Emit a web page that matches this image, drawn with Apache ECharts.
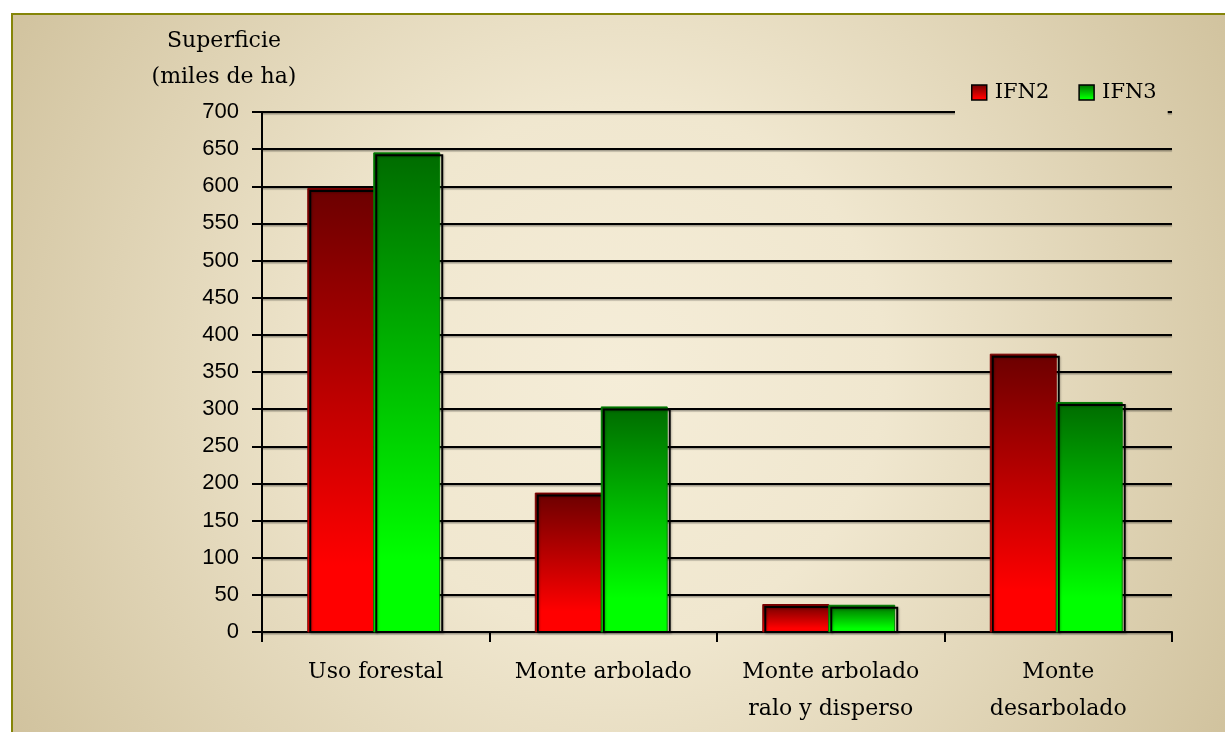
<!DOCTYPE html>
<html>
<head>
<meta charset="utf-8">
<script src="https://cdn.jsdelivr.net/npm/echarts@6/dist/echarts.min.js"></script>
<style>
  html, body { margin: 0; padding: 0; background: #ffffff; width: 1225px; height: 732px; overflow: hidden; }
  #frame { position: absolute; left: 11px; top: 13px; width: 1220px; height: 725px; border-left: 2px solid #858508; border-top: 2px solid #858508; }
  #chart { position: absolute; left: 13px; top: 15px; width: 1212px; height: 717px; }
</style>
</head>
<body>
<div id="frame"></div>
<div id="chart"></div>
<script>
// Superficie forestal por tipo de uso (miles de ha), IFN2 frente a IFN3
const categories = ['Uso forestal', 'Monte arbolado', 'Monte arbolado\nralo y disperso', 'Monte\ndesarbolado'];
const ifn2 = [597, 187, 37, 374];
const ifn3 = [645, 303, 36, 309];
const seriesNames = ['IFN2', 'IFN3'];
const yTicks = { min: 0, max: 700, interval: 50 };

const serif = '"DejaVu Serif", "Liberation Serif", serif';
const sans = '"Liberation Sans", Arial, sans-serif';

// Paper-like radial shading; the legend box reuses it, shifted into its own local frame
const paperStops = [
  { offset: 0, color: '#f5edd8' },
  { offset: 0.35, color: '#f0e7cf' },
  { offset: 1, color: '#cdbe98' }
];
const paperCenter = [607, 355];
const paperRadius = 760;
function paperAt(ox, oy) {
  return {
    type: 'radial', x: paperCenter[0] - ox, y: paperCenter[1] - oy, r: paperRadius, global: true,
    colorStops: paperStops
  };
}

const legendPos = { left: 942, top: 55, pad: [12, 11, 18, 16] };

function fade(dark, bright) {
  return {
    type: 'linear', x: 0, y: 0, x2: 0, y2: 1,
    colorStops: [
      { offset: 0, color: dark },
      { offset: 0.85, color: bright },
      { offset: 1, color: bright }
    ]
  };
}
const fills = [fade('#6b0000', '#ff0000'), fade('#006b00', '#00ff00')];
const edges = ['#7a0000', '#007a00'];

function barRenderer(side) {
  return function (params, api) {
    const idx = api.value(0);
    const top = api.coord([idx, api.value(1)]);
    const base = api.coord([idx, 0]);
    const band = api.size([1, 0])[0];
    const w = band * 0.29;
    const x = (side === 0 ? top[0] - w : top[0]) - 2;
    const h = base[1] - top[1];
    return {
      type: 'group',
      children: [
        {
          type: 'rect',
          shape: { x: x, y: top[1], width: w, height: h },
          style: { fill: fills[side], stroke: edges[side], lineWidth: 1 }
        },
        {
          type: 'rect',
          shape: { x: x + 2.5, y: top[1] + 2.5, width: w, height: h - 2.5 },
          style: {
            fill: null, stroke: '#000', lineWidth: 2,
            shadowColor: 'rgba(0,0,0,0.25)', shadowBlur: 2, shadowOffsetX: 1, shadowOffsetY: 1
          }
        }
      ]
    };
  };
}

const chart = echarts.init(document.getElementById('chart'), null, { renderer: 'canvas' });
chart.setOption({
  backgroundColor: paperAt(0, 0),
  animation: false,
  graphic: [
    {
      type: 'text', x: 211, y: 26,
      style: { text: 'Superficie', font: '22px ' + serif, fill: '#000', align: 'center', verticalAlign: 'middle' }
    },
    {
      type: 'text', x: 211, y: 62,
      style: { text: '(miles de ha)', font: '22px ' + serif, fill: '#000', align: 'center', verticalAlign: 'middle' }
    }
  ],
  legend: {
    data: seriesNames.map((n, i) => ({
      name: n, icon: 'rect',
      itemStyle: { color: fills[i], borderColor: '#000', borderWidth: 1.5 }
    })),
    left: legendPos.left, top: legendPos.top,
    padding: legendPos.pad,
    itemWidth: 15, itemHeight: 15, itemGap: 29,
    backgroundColor: paperAt(legendPos.left + legendPos.pad[3], legendPos.top + legendPos.pad[0]),
    textStyle: { fontFamily: serif, fontSize: 21, color: '#000', padding: [0, 0, 0, 3] }
  },
  grid: { left: 249, top: 97, right: 53, bottom: 100, containLabel: false },
  xAxis: {
    type: 'category',
    data: categories,
    boundaryGap: true,
    axisLine: { lineStyle: { color: '#000', width: 2 } },
    axisTick: { show: true, length: 10, lineStyle: { color: '#000', width: 2 } },
    axisLabel: { color: '#000', fontFamily: serif, fontSize: 22, lineHeight: 37, margin: 22, interval: 0 },
    splitLine: { show: false }
  },
  yAxis: {
    type: 'value',
    min: yTicks.min, max: yTicks.max, interval: yTicks.interval,
    axisLine: { show: true, lineStyle: { color: '#000', width: 2 } },
    axisTick: { show: true, length: 10, lineStyle: { color: '#000', width: 2 } },
    axisLabel: { color: '#000', fontFamily: sans, fontSize: 22, margin: 23 },
    splitLine: {
      show: true,
      lineStyle: { color: '#000', width: 2, shadowColor: 'rgba(0,0,0,0.35)', shadowOffsetY: 1.5, shadowBlur: 1 }
    }
  },
  series: [
    {
      name: seriesNames[0], type: 'custom', renderItem: barRenderer(0),
      itemStyle: { color: '#ff0000' },
      encode: { x: 0, y: 1 },
      data: ifn2.map((v, i) => [i, v]), z: 3
    },
    {
      name: seriesNames[1], type: 'custom', renderItem: barRenderer(1),
      itemStyle: { color: '#00ff00' },
      encode: { x: 0, y: 1 },
      data: ifn3.map((v, i) => [i, v]), z: 3
    }
  ]
});
</script>
</body>
</html>
